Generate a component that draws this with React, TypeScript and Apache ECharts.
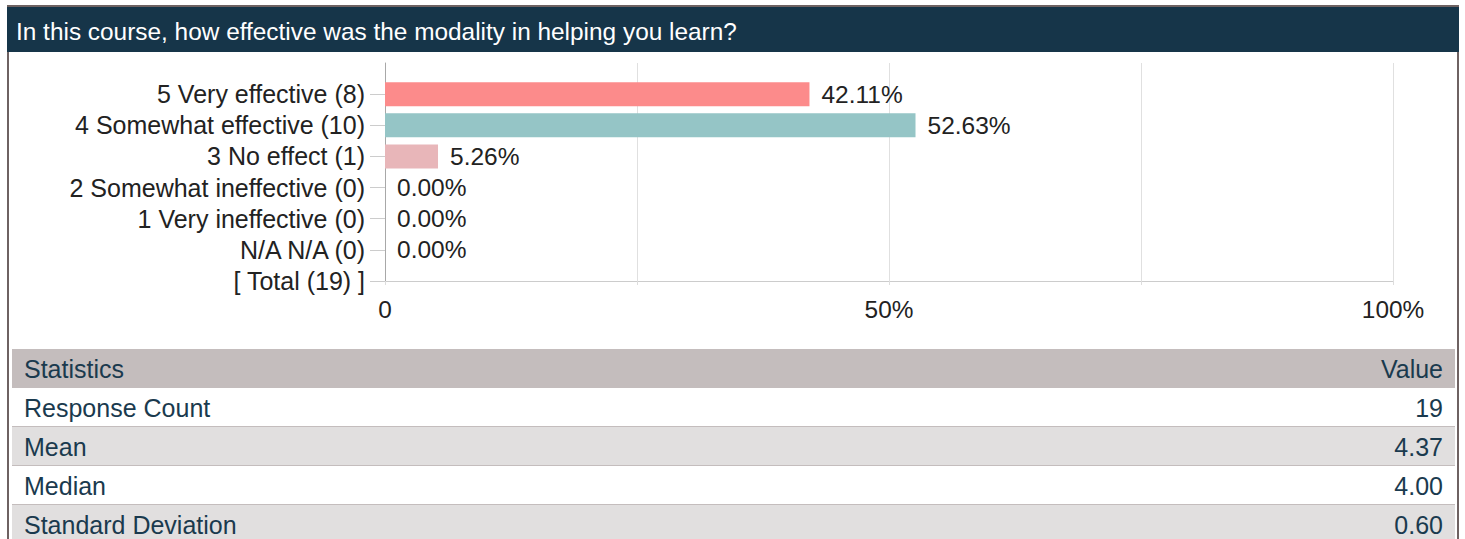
import React, { useEffect, useRef } from "react";
import * as echarts from "echarts";

const title = "In this course, how effective was the modality in helping you learn?";
const categories = [
  "5 Very effective (8)",
  "4 Somewhat effective (10)",
  "3 No effect (1)",
  "2 Somewhat ineffective (0)",
  "1 Very ineffective (0)",
  "N/A N/A (0)",
  "[ Total (19) ]",
];
const percentages: (number | null)[] = [42.11, 52.63, 5.26, 0, 0, 0, null];
const barColors = ["#fc8b8b", "#95c5c6", "#e8b6b9", "#cccccc", "#cccccc", "#cccccc", "#cccccc"];
const xTicks = [0, 25, 50, 75, 100];
const tableHeader = ["Statistics", "Value"];
const statLabels = ["Response Count", "Mean", "Median", "Standard Deviation"];
const statValues = ["19", "4.37", "4.00", "0.60"];

const FONT = "'Liberation Sans', Arial, sans-serif";

export default function App() {
  const ref = useRef<HTMLDivElement>(null);
  useEffect(() => {
    if (!ref.current) return;
    const chart = echarts.init(ref.current, null, { renderer: "svg" });

    const graphics: any[] = [];
    // frame
    graphics.push({ type: "rect", shape: { x: 7, y: 5, width: 1452, height: 2 }, style: { fill: "#6e6262" } });
    graphics.push({ type: "rect", shape: { x: 7, y: 5, width: 2, height: 534 }, style: { fill: "#6e6262" } });
    graphics.push({ type: "rect", shape: { x: 1457, y: 5, width: 2, height: 534 }, style: { fill: "#6e6262" } });
    // header
    graphics.push({ type: "rect", shape: { x: 7, y: 7, width: 1452, height: 45 }, style: { fill: "#163549" } });
    graphics.push({
      type: "text", x: 16, y: 31,
      style: { text: title, fill: "#ffffff", font: `24.4px ${FONT}`, verticalAlign: "middle", align: "left" },
    });
    // table header
    graphics.push({ type: "rect", shape: { x: 12, y: 349, width: 1443, height: 39 }, style: { fill: "#c4bdbd" } });
    graphics.push({
      type: "text", x: 24, y: 369,
      style: { text: tableHeader[0], fill: "#1a3a4e", font: `25px ${FONT}`, verticalAlign: "middle", align: "left" },
    });
    graphics.push({
      type: "text", x: 1443, y: 369,
      style: { text: tableHeader[1], fill: "#1a3a4e", font: `25px ${FONT}`, verticalAlign: "middle", align: "right" },
    });
    statLabels.forEach((lab, i) => {
      const y0 = 388 + i * 39;
      graphics.push({
        type: "rect", shape: { x: 12, y: y0, width: 1443, height: 39 },
        style: { fill: i % 2 === 0 ? "#ffffff" : "#e1dfdf" },
      });
      graphics.push({
        type: "rect", shape: { x: 12, y: y0 + 38, width: 1443, height: 2 },
        style: { fill: "#c4bdbd" },
      });
      graphics.push({
        type: "text", x: 24, y: y0 + 20,
        style: { text: lab, fill: "#1a3a4e", font: `25px ${FONT}`, verticalAlign: "middle", align: "left" },
      });
      graphics.push({
        type: "text", x: 1443, y: y0 + 20,
        style: { text: statValues[i], fill: "#1a3a4e", font: `25px ${FONT}`, verticalAlign: "middle", align: "right" },
      });
    });

    chart.setOption({
      animation: false,
      backgroundColor: "#ffffff",
      grid: { left: 385, right: 72, top: 63, bottom: 258, containLabel: false },
      xAxis: {
        type: "value",
        min: xTicks[0],
        max: xTicks[xTicks.length - 1],
        interval: xTicks[1] - xTicks[0],
        axisLine: { show: true, lineStyle: { color: "#cccccc", width: 1 } },
        axisTick: { show: true, length: 4, lineStyle: { color: "#dddddd" } },
        splitLine: { show: true, lineStyle: { color: "#e0e0e0", width: 1 } },
        axisLabel: {
          margin: 16,
          fontSize: 24.4,
          fontFamily: FONT,
          color: "#222222",
          showMaxLabel: true,
          showMinLabel: true,
          formatter: (v: number) => (v === 0 ? "0" : v % 50 === 0 ? `${v}%` : ""),
        },
      },
      yAxis: {
        type: "category",
        inverse: true,
        boundaryGap: false,
        data: ["", ...categories],
        axisLine: { show: true, lineStyle: { color: "#a8a8a8", width: 1 } },
        axisTick: {
          show: true,
          length: 15,
          interval: (index: number) => index !== 0,
          lineStyle: { color: "#cccccc" },
        },
        splitLine: { show: false },
        axisLabel: {
          interval: 0,
          margin: 20,
          fontSize: 25,
          fontFamily: FONT,
          color: "#222222",
        },
      },
      series: [
        {
          type: "bar",
          barWidth: 24,
          data: [
            { value: "-" },
            ...percentages.map((v, i) => ({
              value: v === null ? "-" : v,
              itemStyle: { color: barColors[i] },
            })),
          ],
          label: {
            show: true,
            position: "right",
            distance: 12,
            fontSize: 24.5,
            fontFamily: FONT,
            color: "#222222",
            formatter: (p: any) =>
              typeof p.value === "number" ? `${p.value.toFixed(2)}%` : "",
          },
        },
      ],
      graphic: graphics,
    });

    return () => chart.dispose();
  }, []);

  return (
    <div
      ref={ref}
      style={{ position: "absolute", left: 0, top: 0, width: 1465, height: 539 }}
    />
  );
}
